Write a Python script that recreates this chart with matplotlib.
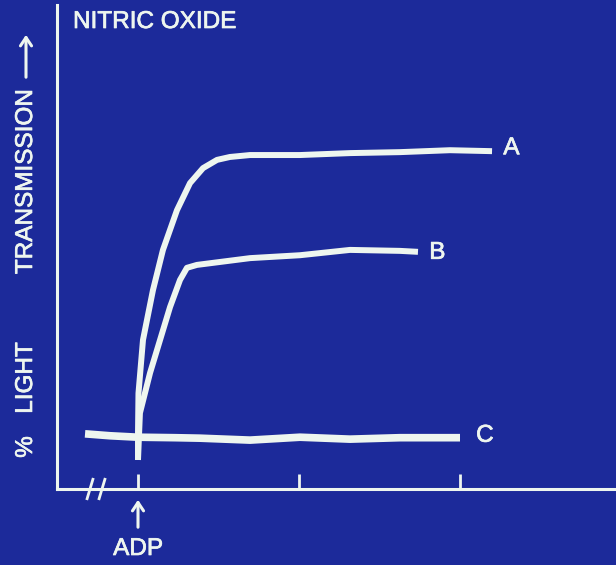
import matplotlib
matplotlib.use("Agg")
import matplotlib.pyplot as plt
import matplotlib.patheffects as pe

# ---- data (time in minutes after ADP, % light transmission) ----
a_x = [0.0, 0.0, 0.003, 0.031, 0.093, 0.155, 0.242, 0.323, 0.404, 0.491, 0.571, 0.696,
       1.006, 1.317, 1.627, 1.938, 2.199]
a_y = [6.0, 11.6, 19.8, 30.8, 41.1, 49.4, 57.6, 63.2, 66.3, 68.0, 68.6, 69.0,
       69.0, 69.4, 69.6, 70.0, 69.8]

b_x = [0.0, 0.012, 0.075, 0.137, 0.199, 0.261, 0.304, 0.366, 0.696, 1.006, 1.317, 1.627, 1.739]
b_y = [6.0, 15.7, 24.0, 30.8, 37.6, 43.2, 45.7, 46.3, 47.7, 48.3, 49.4, 49.2, 49.0]

c_x = [-0.329, -0.174, 0.0, 0.23, 0.385, 0.696, 1.006, 1.317, 1.627, 2.0]
c_y = [11.4, 11.0, 10.7, 10.6, 10.5, 10.1, 10.7, 10.3, 10.6, 10.6]

series_labels = ["A", "B", "C"]
x_ticks = [0, 1, 2]
title_text = "NITRIC OXIDE"
ylabel_parts = ["%", "LIGHT", "TRANSMISSION"]
event_label = "ADP"

BG = "#1c2a9a"
FG = "#eef6ef"
FONT = "Liberation Sans"
FS = 17.5

W, H = 616, 565
fig = plt.figure(figsize=(W / 100, H / 100), dpi=100, facecolor=BG)

ax_left, ax_right, ax_bottom, ax_top = 57, 616, 489, 5
ax = fig.add_axes([ax_left / W, (H - ax_bottom) / H,
                   (ax_right - ax_left) / W, (ax_bottom - ax_top) / H])
ax.set_facecolor(BG)
ax.set_xlim((ax_left - 138) / 161, (ax_right - 138) / 161)
ax.set_ylim(0, 100)

for s in ["top", "right"]:
    ax.spines[s].set_visible(False)
for s in ["left", "bottom"]:
    ax.spines[s].set_color(FG)
    ax.spines[s].set_linewidth(2.2)

ax.set_xticks(x_ticks)
ax.set_xticklabels([])
ax.set_yticks([])
ax.tick_params(axis="x", direction="in", length=11, width=2.0, color=FG)

lw = 4.3
ax.plot(a_x, a_y, color=FG, lw=lw, solid_capstyle="butt", solid_joinstyle="round")
ax.plot(b_x, b_y, color=FG, lw=lw, solid_capstyle="butt", solid_joinstyle="round")
ax.plot(c_x, c_y, color=FG, lw=lw + 1.2, solid_capstyle="butt", solid_joinstyle="round")

stroke = [pe.withStroke(linewidth=0.5, foreground=FG)]
txt_kw = dict(color=FG, fontsize=FS, family=FONT, path_effects=stroke)

# curve labels
ax.text(a_x[-1] + 0.07, a_y[-1] + 0.6, series_labels[0], ha="left", va="center", **txt_kw)
ax.text(b_x[-1] + 0.07, b_y[-1] - 0.2, series_labels[1], ha="left", va="center", **txt_kw)
ax.text(c_x[-1] + 0.1, c_y[-1] + 0.4, series_labels[2], ha="left", va="center", **txt_kw)

# axis break marks
for bx in [(90 - 138) / 161, (102 - 138) / 161]:
    ax.plot([bx - 0.018, bx + 0.018], [-2.0, 2.0], color=FG, lw=2.0, clip_on=False)

# title
fig.text(73 / W, 1 - 22 / H, title_text, ha="left", va="center", **txt_kw)

# y label pieces
fig.text(26 / W, 1 - 447 / H, ylabel_parts[0], rotation=90, ha="center", va="center", **txt_kw)
fig.text(26 / W, 1 - 378 / H, ylabel_parts[1], rotation=90, ha="center", va="center", **txt_kw)
fig.text(26 / W, 1 - 182 / H, ylabel_parts[2], rotation=90, ha="center", va="center", **txt_kw)
fig.add_artist(matplotlib.patches.FancyArrowPatch(
    (26 / W, 1 - 80 / H), (26 / W, 1 - 32 / H), transform=fig.transFigure,
    arrowstyle="->,head_length=6,head_width=4", color=FG, lw=2.2, mutation_scale=1))

# ADP arrow and label
fig.add_artist(matplotlib.patches.FancyArrowPatch(
    (138 / W, 1 - 530 / H), (138 / W, 1 - 497 / H), transform=fig.transFigure,
    arrowstyle="->,head_length=6,head_width=4", color=FG, lw=2.2, mutation_scale=1))
fig.text(138 / W, 1 - 549 / H, event_label, ha="center", va="center", **txt_kw)

fig.savefig("out.png", dpi=100, facecolor=BG)
